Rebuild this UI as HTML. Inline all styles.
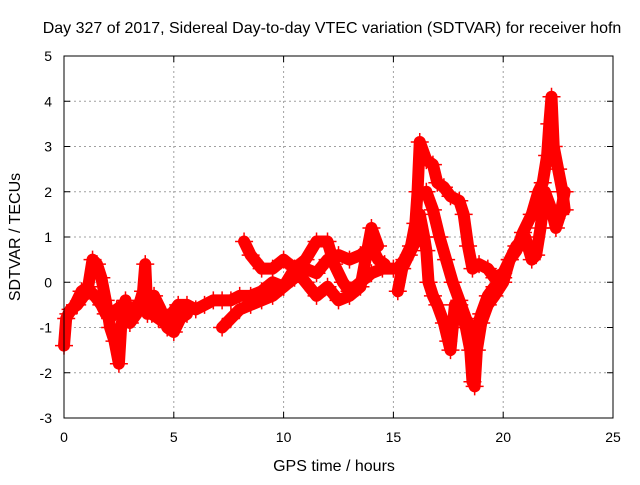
<!DOCTYPE html>
<html><head><meta charset="utf-8"><style>
body{margin:0;background:#fff}
text{font-family:"Liberation Sans",sans-serif;font-size:14px;fill:#000}
.big{font-size:16px}
</style></head><body>
<svg id="chart" width="640" height="480" xmlns="http://www.w3.org/2000/svg">
<text class="big" x="332" y="33" text-anchor="middle">Day 327 of 2017, Sidereal Day-to-day VTEC variation (SDTVAR) for receiver hofn</text>
<text class="big" x="334" y="471" text-anchor="middle">GPS time / hours</text>
<text class="big" transform="translate(20,237) rotate(-90)" text-anchor="middle">SDTVAR / TECUs</text>
<g id="grid"></g>
<g id="ticks"></g>
<g id="series"></g>
<rect x="64" y="56" width="549" height="362" fill="none" stroke="#000" stroke-width="1"/>
</svg>
<script>
const xTicks=[0,5,10,15,20,25];
const yTicks=[-3,-2,-1,0,1,2,3,4,5];
const trackA=[[0,-1.4],[0.1,-0.8],[0.3,-0.6],[0.6,-0.5],[0.9,-0.3],[1.2,-0.2],[1.4,-0.3],[1.7,-0.5],[1.9,-0.7],[2.1,-0.8],[2.4,-0.6],[2.7,-0.5],[3.0,-0.6],[3.4,-0.5],[3.7,-0.4],[4.0,-0.7],[4.3,-0.8],[4.6,-0.9],[4.9,-0.7],[5.2,-0.5],[5.6,-0.5],[6.0,-0.6],[6.4,-0.5],[6.8,-0.4],[7.2,-0.4],[7.6,-0.4],[8.0,-0.3],[8.5,-0.3],[9.0,-0.2],[9.5,0],[10,-0.1],[10.5,0.1],[11,0.3],[11.5,0.2],[12,0.5],[12.5,0.6],[13,0.5],[13.5,0.6],[14,0.8],[14.3,0.5],[14.6,0.4]];
const trackB=[[0.2,-0.7],[0.5,-0.5],[0.8,-0.2],[1.1,-0.1],[1.3,0.5],[1.5,0.4],[1.7,0.1],[1.9,-0.4],[2.1,-1.0],[2.3,-1.3],[2.5,-1.8],[2.6,-1.0],[2.8,-0.4],[3.0,-0.9],[3.3,-0.7],[3.6,-0.2],[3.7,0.4],[3.8,-0.7],[4.1,-0.3],[4.4,-0.6],[4.7,-1.0],[5.0,-1.1],[5.3,-0.8],[5.6,-0.7]];
const trackC=[[7.2,-1.0],[7.6,-0.8],[8.0,-0.6],[8.5,-0.5],[9.0,-0.4],[9.5,-0.3],[10,-0.1],[10.5,0.3],[11,0.5],[11.5,0.9],[12,0.9],[12.3,0.4],[12.7,0.0],[13,-0.2],[13.5,0],[14,0.2],[14.5,0.3],[15,0.3]];
const trackD=[[8.2,0.9],[8.5,0.6],[9,0.3],[9.5,0.3],[10,0.5],[10.5,0.3],[11,0],[11.5,-0.3],[12,-0.1],[12.5,-0.4],[13,-0.3],[13.5,-0.1],[14,1.2],[14.3,0.8]];
const trackE=[[15.2,0.3],[15.5,0.5],[15.8,0.8],[16.0,1.3],[16.1,2.0],[16.2,3.1],[16.5,2.7],[16.8,2.6],[17.0,2.2],[17.3,2.1],[17.6,1.9],[18.0,1.8],[18.2,1.5],[18.4,0.8],[18.6,0.3],[18.9,0.4],[19.3,0.3],[19.6,0.1],[20,0.2],[20.3,0.5],[20.6,0.7],[20.9,1.1],[21.3,1.5],[21.6,2.0],[21.8,2.2],[22.0,2.8],[22.1,3.5],[22.2,4.1],[22.3,3.0],[22.5,2.5],[22.7,2.0],[22.8,1.6]];
const trackF=[[15.2,-0.2],[15.4,0.3],[15.7,0.6],[16.0,0.9],[16.2,1.5],[16.4,1.0],[16.5,0.7],[16.6,0.0],[16.8,-0.3],[17.0,-0.5],[17.3,-0.9],[17.5,-1.3],[17.6,-1.5],[17.8,-0.5],[18.0,-0.5],[18.3,-1.0],[18.5,-1.5],[18.6,-2.2],[18.7,-2.3],[18.8,-1.5],[19,-0.9],[19.3,-0.5],[19.6,-0.3],[20.0,0],[20.3,0.5],[20.6,0.8],[21.0,1.0],[21.3,0.5],[21.5,0.6],[21.7,1.2],[21.9,2.0],[22.2,1.6],[22.4,1.2],[22.6,1.5],[22.8,2.0]];
const trackG=[[16.5,2.0],[16.8,1.6],[17.1,1.0],[17.4,0.5],[17.7,0.0],[18.0,-0.4],[18.3,-0.8],[18.5,-1.0],[18.7,-1.2],[19.0,-0.7],[19.3,-0.3],[19.6,-0.1],[20,0.1]];
const tracks=[trackA,trackB,trackC,trackD,trackE,trackF,trackG];

const NS="http://www.w3.org/2000/svg";
const X0=64,X1=613,Y0=418,Y1=56,xmin=0,xmax=25,ymin=-3,ymax=5;
const sx=t=>X0+(t-xmin)/(xmax-xmin)*(X1-X0);
const sy=v=>Y0-(v-ymin)/(ymax-ymin)*(Y0-Y1);
function mk(tag,at,parent){const e=document.createElementNS(NS,tag);for(const k in at)e.setAttribute(k,at[k]);parent.appendChild(e);return e;}
const grid=document.getElementById('grid'),ticks=document.getElementById('ticks'),series=document.getElementById('series');
xTicks.forEach(t=>{
  const x=sx(t);
  if(t>xmin&&t<xmax){const g=mk('line',{x1:x,x2:x,y1:Y1,y2:Y0,stroke:'#a0a0a0','stroke-dasharray':'2,3'},grid);
  
  }
  mk('line',{x1:x,x2:x,y1:Y0,y2:Y0-6,stroke:'#000'},ticks);
  mk('line',{x1:x,x2:x,y1:Y1,y2:Y1+6,stroke:'#000'},ticks);
  const l=mk('text',{x:x,y:Y0+24,'text-anchor':'middle'},ticks);l.textContent=t;
  
  
});
yTicks.forEach(v=>{
  const y=sy(v);
  if(v>ymin&&v<ymax){const g=mk('line',{x1:X0,x2:X1,y1:y,y2:y,stroke:'#a0a0a0','stroke-dasharray':'2,3'},grid);
  
  }
  mk('line',{x1:X0,x2:X0+6,y1:y,y2:y,stroke:'#000'},ticks);
  mk('line',{x1:X1,x2:X1-6,y1:y,y2:y,stroke:'#000'},ticks);
  const l=mk('text',{x:X0-12,y:y+5,'text-anchor':'end'},ticks);l.textContent=v;
  
  
});
tracks.forEach((tr,i)=>{
  const pts=tr.map(p=>sx(p[0])+','+sy(p[1])).join(' ');
  const pl=mk('polyline',{points:pts,fill:'none',stroke:'#ff0000','stroke-width':12,'stroke-linejoin':'round','stroke-linecap':'round'},series);
  
  
  tr.forEach(p=>{
    const x=sx(p[0]),y=sy(p[1]);
    const m=mk('path',{d:`M${x-9},${y}H${x+9}M${x},${y-9}V${y+9}`,stroke:'#ff0000','stroke-width':1.5},series);
    
    
  });
});
</script>
</body></html>
